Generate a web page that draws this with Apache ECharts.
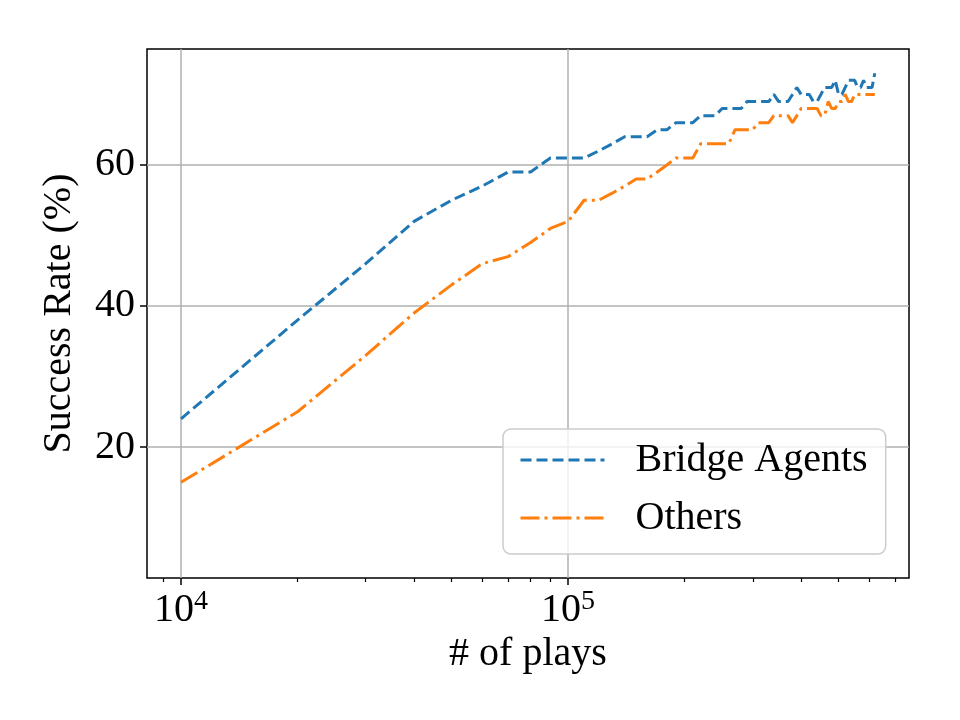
<!DOCTYPE html>
<html lang="en" style="height: 100%">
<head>
  <meta charset="utf-8">
</head>
<body style="height: 100%; margin: 0; background-color: #fff">
  <div id="container" style="width: 960px; height: 720px"></div>
  <script src="https://cdn.jsdelivr.net/npm/echarts@6.0.0/dist/echarts.min.js"></script>
  <script>
    // ---- data ----
    var plays = [
      10000, 20000, 30000, 40000, 50000, 60000, 70000, 80000, 90000, 100000,
      110000, 120000, 130000, 140000, 150000, 160000, 170000, 180000, 190000, 200000,
      210000, 220000, 230000, 240000, 250000, 260000, 270000, 280000, 290000, 300000,
      310000, 320000, 330000, 340000, 350000, 360000, 370000, 380000, 390000, 400000,
      410000, 420000, 430000, 440000, 450000, 460000, 470000, 480000, 490000, 500000,
      510000, 520000, 530000, 540000, 550000, 560000, 570000, 580000, 590000, 600000,
      610000, 620000
    ];
    var bridgeAgents = [
      24, 38, 46, 52, 55, 57, 59, 59, 61, 61,
      61, 62, 63, 64, 64, 64, 65, 65, 66, 66,
      66, 67, 67, 67, 68, 68, 68, 68, 69, 69,
      69, 69, 69, 70, 69, 69, 69, 70, 71, 70,
      70, 70, 69, 69, 70, 71, 71, 71, 72, 70,
      70, 71, 72, 72, 72, 71, 71, 72, 71, 71,
      71, 73
    ];
    var others = [
      15, 25, 33, 39, 43, 46, 47, 49, 51, 52,
      55, 55, 56, 57, 58, 58, 59, 60, 61, 61,
      61, 63, 63, 63, 63, 63, 65, 65, 65, 65,
      66, 66, 66, 67, 67, 67, 67, 66, 67, 68,
      68, 68, 68, 68, 67, 67, 69, 68, 68, 69,
      69, 70, 69, 69, 70, 70, 70, 70, 70, 70,
      70, 70
    ];
    var xMajorTicks = [10000, 100000];
    var xMinorTicks = [9000, 20000, 30000, 40000, 50000, 60000, 70000, 80000, 90000,
      200000, 300000, 400000, 500000, 600000, 700000];
    var yTicks = [20, 40, 60];

    var FONT = '"Liberation Serif", "DejaVu Serif", serif';

    var chart = echarts.init(document.getElementById('container'), null, { renderer: 'canvas' });

    function pairs(vals) {
      return plays.map(function (p, i) { return [p, vals[i]]; });
    }

    var option = {
      animation: false,
      backgroundColor: '#fff',
      grid: {
        left: 147, top: 49, right: 51, bottom: 142,
        show: true, borderColor: '#000', borderWidth: 1.5, backgroundColor: 'transparent'
      },
      legend: {
        orient: 'vertical',
        left: 503, top: 429,
        padding: [11, 18, 16, 16],
        itemGap: 18,
        itemWidth: 84, itemHeight: 14,
        itemStyle: { opacity: 0 },
        lineStyle: { width: 3 },
        backgroundColor: 'rgba(255,255,255,0.8)',
        borderColor: '#cccccc', borderWidth: 1.5, borderRadius: 8,
        textStyle: { fontFamily: FONT, fontSize: 40, color: '#000', lineHeight: 40, padding: [0, 0, 0, 26] },
        data: ['Bridge Agents', 'Others']
      },
      xAxis: [{
        type: 'log', logBase: 10, min: 8166, max: 760000,
        name: '# of plays', nameLocation: 'middle', nameGap: 52,
        nameTextStyle: { fontFamily: FONT, fontSize: 40, color: '#000' },
        axisLine: { show: false },
        axisTick: { customValues: xMajorTicks, length: 7, lineStyle: { color: '#000', width: 1.5 } },
        axisLabel: {
          customValues: xMajorTicks, margin: 10, color: '#000',
          formatter: function (v) { return '{m|10}{s|' + Math.round(Math.log10(v)) + '}'; },
          rich: {
            m: { fontFamily: FONT, fontSize: 40, lineHeight: 44, color: '#000' },
            s: { fontFamily: FONT, fontSize: 28, lineHeight: 24, verticalAlign: 'top', color: '#000' }
          }
        },
        splitLine: { show: true, lineStyle: { color: '#b0b0b0', width: 1.5 } }
      }, {
        type: 'log', logBase: 10, min: 8166, max: 760000, position: 'bottom',
        axisLine: { show: false },
        axisTick: { customValues: xMinorTicks, length: 4, lineStyle: { color: '#000', width: 1.2 } },
        axisLabel: { show: false },
        splitLine: { show: false }
      }],
      yAxis: {
        type: 'value', min: 1.42, max: 76.45,
        name: 'Success Rate (%)', nameLocation: 'middle', nameGap: 68,
        nameTextStyle: { fontFamily: FONT, fontSize: 40, color: '#000' },
        axisLine: { show: false },
        axisTick: { customValues: yTicks, length: 7, lineStyle: { color: '#000', width: 1.5 } },
        axisLabel: { customValues: yTicks, margin: 12, fontFamily: FONT, fontSize: 40, color: '#000' },
        splitLine: { show: true, lineStyle: { color: '#b0b0b0', width: 1.5 } }
      },
      series: [{
        name: 'Bridge Agents', type: 'line', xAxisIndex: 0,
        symbol: 'none', color: '#1f77b4',
        lineStyle: { width: 3, type: [11, 5], color: '#1f77b4' },
        data: pairs(bridgeAgents)
      }, {
        name: 'Others', type: 'line', xAxisIndex: 0,
        symbol: 'none', color: '#ff7f0e',
        lineStyle: { width: 3, type: [19, 5, 3, 5], color: '#ff7f0e' },
        data: pairs(others)
      }]
    };

    chart.setOption(option);
  </script>
</body>
</html>
